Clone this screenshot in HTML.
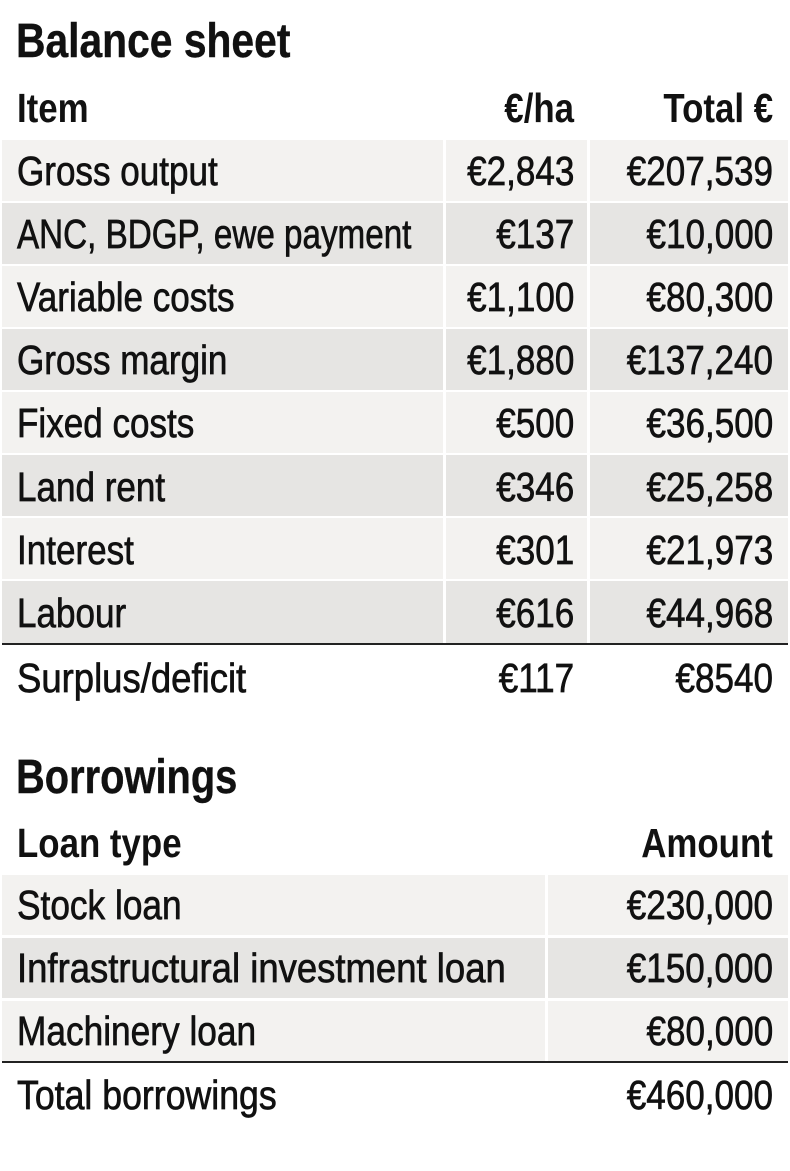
<!DOCTYPE html>
<html><head><meta charset="utf-8"><style>
body{margin:0;width:790px;height:1171px;background:#fff;position:relative;overflow:hidden;font-family:"Liberation Sans",sans-serif;color:#111}
.t{position:absolute;font-size:41px;line-height:1;white-space:nowrap;-webkit-text-stroke:0.7px #111;transform:scaleX(0.855);transform-origin:left center}
.r{transform-origin:right center}
.h{font-weight:bold;-webkit-text-stroke:0;transform:scaleX(0.85)}
.title{font-size:48px;font-weight:bold;-webkit-text-stroke:0.4px #111;transform:scaleX(0.85)}
.bg{position:absolute}
.l{background:#f3f2f0}.d{background:#e6e5e3}
.line{position:absolute;height:2px;background:#222;left:2px;width:786px}
</style></head><body>
<div class="t title" style="left:16px;top:18px">Balance sheet</div>
<div class="t h" style="left:17px;top:88px">Item</div>
<div class="t h r" style="right:216px;top:88px">€/ha</div>
<div class="t h r" style="right:17px;top:88px">Total €</div>

<div class="bg l" style="left:2px;top:140px;width:441px;height:61px"></div><div class="bg l" style="left:446px;top:140px;width:141px;height:61px"></div><div class="bg l" style="left:590px;top:140px;width:198px;height:61px"></div>
<div class="bg d" style="left:2px;top:203px;width:441px;height:61px"></div><div class="bg d" style="left:446px;top:203px;width:141px;height:61px"></div><div class="bg d" style="left:590px;top:203px;width:198px;height:61px"></div>
<div class="bg l" style="left:2px;top:266px;width:441px;height:61px"></div><div class="bg l" style="left:446px;top:266px;width:141px;height:61px"></div><div class="bg l" style="left:590px;top:266px;width:198px;height:61px"></div>
<div class="bg d" style="left:2px;top:329px;width:441px;height:61px"></div><div class="bg d" style="left:446px;top:329px;width:141px;height:61px"></div><div class="bg d" style="left:590px;top:329px;width:198px;height:61px"></div>
<div class="bg l" style="left:2px;top:392px;width:441px;height:61px"></div><div class="bg l" style="left:446px;top:392px;width:141px;height:61px"></div><div class="bg l" style="left:590px;top:392px;width:198px;height:61px"></div>
<div class="bg d" style="left:2px;top:455px;width:441px;height:61px"></div><div class="bg d" style="left:446px;top:455px;width:141px;height:61px"></div><div class="bg d" style="left:590px;top:455px;width:198px;height:61px"></div>
<div class="bg l" style="left:2px;top:518px;width:441px;height:61px"></div><div class="bg l" style="left:446px;top:518px;width:141px;height:61px"></div><div class="bg l" style="left:590px;top:518px;width:198px;height:61px"></div>
<div class="bg d" style="left:2px;top:581px;width:441px;height:62px"></div><div class="bg d" style="left:446px;top:581px;width:141px;height:62px"></div><div class="bg d" style="left:590px;top:581px;width:198px;height:62px"></div>
<div class="line" style="top:643px"></div>

<div class="t" style="left:17px;top:151px">Gross output</div><div class="t r" style="right:216px;top:151px">€2,843</div><div class="t r" style="right:17px;top:151px">€207,539</div>
<div class="t" style="left:17px;top:214px;transform:scaleX(0.81)">ANC, BDGP, ewe payment</div><div class="t r" style="right:216px;top:214px">€137</div><div class="t r" style="right:17px;top:214px">€10,000</div>
<div class="t" style="left:17px;top:277px">Variable costs</div><div class="t r" style="right:216px;top:277px">€1,100</div><div class="t r" style="right:17px;top:277px">€80,300</div>
<div class="t" style="left:17px;top:340px">Gross margin</div><div class="t r" style="right:216px;top:340px">€1,880</div><div class="t r" style="right:17px;top:340px">€137,240</div>
<div class="t" style="left:17px;top:403px">Fixed costs</div><div class="t r" style="right:216px;top:403px">€500</div><div class="t r" style="right:17px;top:403px">€36,500</div>
<div class="t" style="left:17px;top:467px">Land rent</div><div class="t r" style="right:216px;top:467px">€346</div><div class="t r" style="right:17px;top:467px">€25,258</div>
<div class="t" style="left:17px;top:530px">Interest</div><div class="t r" style="right:216px;top:530px">€301</div><div class="t r" style="right:17px;top:530px">€21,973</div>
<div class="t" style="left:17px;top:593px">Labour</div><div class="t r" style="right:216px;top:593px">€616</div><div class="t r" style="right:17px;top:593px">€44,968</div>
<div class="t" style="left:17px;top:658px;transform:scaleX(0.89)">Surplus/deficit</div><div class="t r" style="right:216px;top:658px">€117</div><div class="t r" style="right:17px;top:658px">€8540</div>

<div class="t title" style="left:16px;top:754px;transform:scaleX(0.83)">Borrowings</div>
<div class="t h" style="left:17px;top:823px">Loan type</div>
<div class="t h r" style="right:17px;top:823px">Amount</div>

<div class="bg l" style="left:2px;top:875px;width:543px;height:60px"></div><div class="bg l" style="left:548px;top:875px;width:240px;height:60px"></div>
<div class="bg d" style="left:2px;top:938px;width:543px;height:60px"></div><div class="bg d" style="left:548px;top:938px;width:240px;height:60px"></div>
<div class="bg l" style="left:2px;top:1001px;width:543px;height:60px"></div><div class="bg l" style="left:548px;top:1001px;width:240px;height:60px"></div>
<div class="line" style="top:1061px"></div>

<div class="t" style="left:17px;top:885px;transform:scaleX(0.86)">Stock loan</div><div class="t r" style="right:17px;top:885px">€230,000</div>
<div class="t" style="left:17px;top:948px;transform:scaleX(0.89)">Infrastructural investment loan</div><div class="t r" style="right:17px;top:948px">€150,000</div>
<div class="t" style="left:17px;top:1011px;transform:scaleX(0.86)">Machinery loan</div><div class="t r" style="right:17px;top:1011px">€80,000</div>
<div class="t" style="left:17px;top:1075px;transform:scaleX(0.87)">Total borrowings</div><div class="t r" style="right:17px;top:1075px">€460,000</div>
</body></html>
